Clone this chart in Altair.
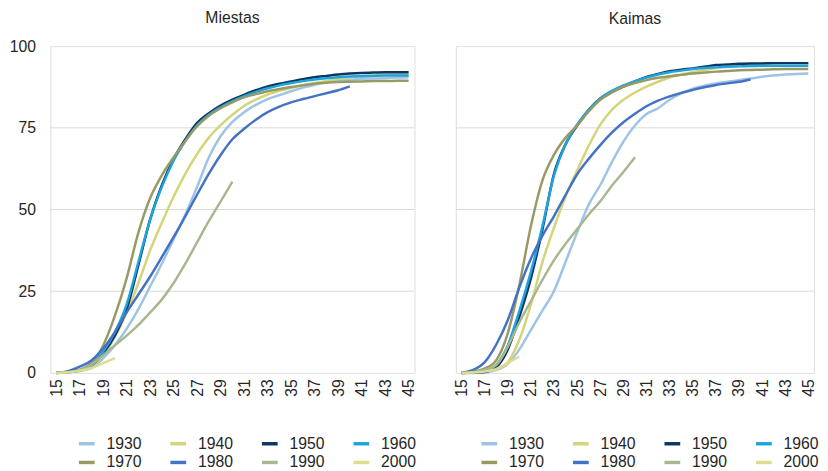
import altair as alt
import pandas as pd

SERIES = ["1930", "1940", "1950", "1960", "1970", "1980", "1990", "2000"]
COLORS = ["#9dc3e6", "#d4d47a", "#0b3563", "#1fa3dc", "#999966", "#4472c4", "#a9b78f", "#dedc8f"]
AGE_START = 15
X_TICKS = list(range(15, 46, 2))
Y_TICKS = [0, 25, 50, 75, 100]
GRID_LINES = [25, 50, 75]

# Miestas (values by age starting at 15)
miestas_1930 = [0, 0.2, 0.6, 1.5, 4.5, 8.5, 13.5, 19.5, 26.5, 33.5, 41, 48.5, 57, 66, 72.5, 76.8,
                79.8, 82, 83.8, 85, 86.2, 87.3, 88.2, 88.9, 89.4, 89.7, 90, 90.1, 90.2, 90.4, 90.5]
miestas_1940 = [0, 0.2, 0.7, 2, 5.4, 11, 18.5, 27.5, 37.5, 46, 54, 61, 67, 72, 75.8, 79,
                81.7, 83.6, 85.2, 86.3, 87.2, 88, 88.7, 89.3, 89.9, 90.4, 90.8, 91.1, 91.3, 91.5, 91.6]
miestas_1950 = [0, 0.3, 0.8, 2.3, 6, 11.5, 19.5, 33, 47, 57.5, 65.5, 71.5, 76.5, 79.5, 81.8, 83.6,
                85.1, 86.5, 87.7, 88.5, 89.2, 89.9, 90.5, 90.9, 91.3, 91.6, 91.8, 91.9, 92, 92, 92]
miestas_1960 = [0, 0.2, 0.7, 2.2, 6.5, 12.5, 21, 34, 47, 57, 65, 71, 75.8, 79, 81.3, 83.2,
                84.7, 86, 87.1, 88, 88.7, 89.3, 89.8, 90.2, 90.5, 90.7, 90.8, 90.9, 91, 91, 91]
miestas_1970 = [0, 0.3, 1, 3, 8.4, 17.5, 29, 43, 53.5, 60.5, 66, 71, 75.5, 78.7, 81, 82.8,
                84.3, 85.3, 86.2, 86.9, 87.5, 88, 88.5, 88.8, 89, 89.1, 89.2, 89.3, 89.3, 89.4, 89.4]
miestas_1980 = [0, 0.5, 1.9, 3.8, 7.5, 12.5, 18.5, 24, 29.5, 35.5, 41.6, 48, 54.6, 61, 66.7, 71.5,
                74.7, 77.5, 79.8, 81.5, 82.8, 83.8, 84.7, 85.6, 86.5, 87.7]
miestas_1990 = [0, 0.2, 0.8, 2.5, 5.4, 8.5, 11.4, 14.7, 18.5, 22.5, 27.5, 33.5, 40, 46.5, 52.5, 58.5]
miestas_2000 = [0, 0.2, 0.7, 1.5, 3, 4.5]

# Kaimas
kaimas_1930 = [0, 0, 0.1, 0.9, 2.8, 7.2, 13.2, 19.1, 25.1, 34, 43, 51.5, 57.5, 64.5, 70.8, 75.7,
               79.2, 81, 83.6, 85.5, 87, 87.9, 88.6, 89.1, 89.6, 90.1, 90.6, 91, 91.3, 91.5, 91.6]
kaimas_1940 = [0, 0.1, 0.5, 1.2, 3.3, 10.2, 21, 34, 44.5, 54, 62, 69.5, 76, 80.5, 83.6, 85.8,
               87.6, 89.1, 90.4, 91.3, 92, 92.7, 93.3, 93.8, 94.2, 94.4, 94.6, 94.7, 94.8, 94.8, 94.8]
kaimas_1950 = [0, 0.1, 0.3, 1.8, 7.2, 17.2, 29, 44, 61, 70, 75.7, 80.5, 84, 86, 87.6, 89.2,
               90.6, 91.5, 92.3, 92.8, 93.2, 93.7, 94.2, 94.4, 94.6, 94.7, 94.7, 94.8, 94.8, 94.8, 94.8]
kaimas_1960 = [0, 0.2, 0.6, 2.5, 8.5, 19, 31, 45, 60.5, 70, 76, 80.5, 84, 86.3, 88, 89.3,
               90.4, 91.3, 92, 92.5, 93, 93.3, 93.5, 93.7, 93.8, 93.9, 94, 94, 94, 94, 94]
kaimas_1970 = [0, 0.4, 1.3, 3.9, 12.2, 27, 45, 59, 66.8, 72, 75.7, 80, 83.6, 85.8, 87.6, 88.7,
               89.6, 90.3, 90.8, 91.2, 91.6, 91.9, 92.2, 92.4, 92.6, 92.7, 92.8, 92.9, 93, 93, 93]
kaimas_1980 = [0, 0.9, 3.3, 8.7, 16.2, 26.2, 35, 42, 48, 54.5, 60.8, 65.5, 69.7, 73.5, 76.7, 79.3,
               81.6, 83.3, 84.6, 85.7, 86.6, 87.4, 88.1, 88.6, 89.1, 89.8]
kaimas_1990 = [0, 0.3, 0.9, 2.4, 8, 15.5, 22, 28.5, 34.5, 39.5, 44, 48.5, 52.5, 57.3, 61.5, 66]
kaimas_2000 = [0, 0.1, 0.4, 1.2, 3, 5]

MIESTAS = [miestas_1930, miestas_1940, miestas_1950, miestas_1960,
           miestas_1970, miestas_1980, miestas_1990, miestas_2000]
KAIMAS = [kaimas_1930, kaimas_1940, kaimas_1950, kaimas_1960,
          kaimas_1970, kaimas_1980, kaimas_1990, kaimas_2000]


def to_frame(series_values):
    rows = []
    for name, vals in zip(SERIES, series_values):
        for i, v in enumerate(vals):
            rows.append({"age": AGE_START + i, "value": v, "series": name, "order": SERIES.index(name)})
    return pd.DataFrame(rows)


FONT = "Liberation Sans"
TEXT = "#262626"


def panel(series_values, title, show_y, width, legend_x, title_offset):
    df = to_frame(series_values)
    x_enc = alt.X("age:Q",
                  scale=alt.Scale(domain=[14.5, 45.5], nice=False, zero=False),
                  axis=alt.Axis(values=X_TICKS, labelAngle=-90, grid=False, domain=False,
                                ticks=False, tickSize=0, labelPadding=6, labelFontSize=16,
                                labelColor=TEXT, title=None, labelFont=FONT))
    if show_y:
        y_axis = alt.Axis(values=Y_TICKS, grid=False, domain=False, ticks=False, tickSize=0,
                          labelPadding=15, labelFontSize=16, labelColor=TEXT, title=None,
                          labelFont=FONT)
    else:
        y_axis = None
    y_scale = alt.Scale(domain=[0, 100], nice=False)
    grid = alt.Chart(pd.DataFrame({"value": GRID_LINES})).mark_rule(
        color="#d9d9d9", strokeWidth=1
    ).encode(y=alt.Y("value:Q", scale=y_scale, axis=y_axis))
    lines = alt.Chart(df).mark_line(strokeWidth=2.5, interpolate="monotone").encode(
        x=x_enc,
        y=alt.Y("value:Q", scale=y_scale, axis=y_axis),
        color=alt.Color("series:N",
                        scale=alt.Scale(domain=SERIES, range=COLORS),
                        legend=alt.Legend(orient="none", legendX=legend_x, legendY=394,
                                          direction="horizontal",
                                          columns=4, symbolType="stroke", symbolStrokeWidth=3.5,
                                          symbolSize=256, labelFontSize=16, labelFont=FONT,
                                          labelColor=TEXT, labelOffset=10, columnPadding=22,
                                          rowPadding=1, padding=0, title=None)),
        order=alt.Order("order:Q"),
    )
    return alt.layer(grid, lines).properties(
        width=width, height=332,
        title=alt.TitleParams(title, fontSize=16, fontWeight="normal", font=FONT,
                              color=TEXT, anchor="middle", offset=title_offset),
    )


left = panel(MIESTAS, "Miestas", True, 370, 27, 13)
right = panel(KAIMAS, "Kaimas", False, 364, 24, 19)

chart = alt.hconcat(left, right, spacing=36).resolve_scale(color="independent").properties(
    padding={"top": -3, "left": 0, "right": 0, "bottom": 0}
).configure_view(stroke=None).configure(background="white")

chart.save("out.html", embed_options={"renderer": "svg", "actions": False})
